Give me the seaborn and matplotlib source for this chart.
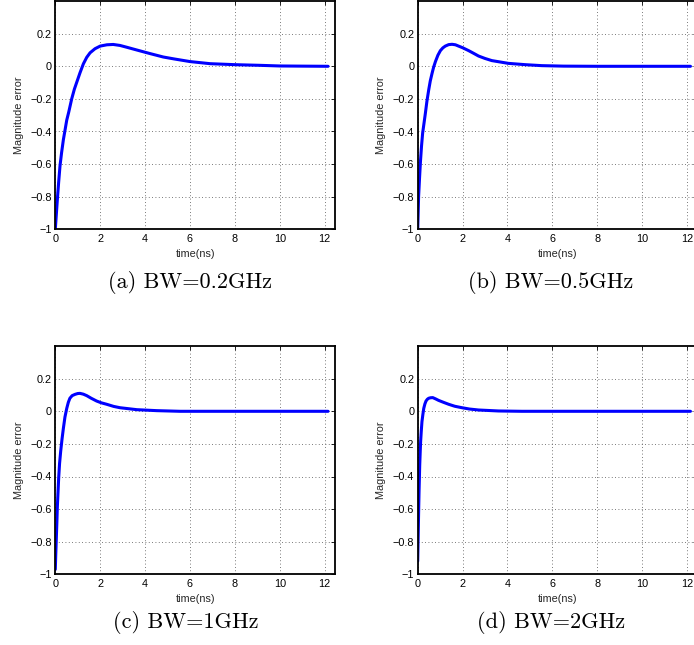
import numpy as np
import pandas as pd
import matplotlib
matplotlib.use("Agg")
import matplotlib.pyplot as plt
import seaborn as sns
from matplotlib.ticker import FixedLocator, FuncFormatter

sns.set_style("white")
plt.rcParams['font.family'] = ['Liberation Sans', 'DejaVu Sans']

# values (time in ns, magnitude error)
t_a = [0, 0.05, 0.09, 0.15, 0.21, 0.28, 0.36, 0.51, 0.6, 0.73, 0.85, 0.95, 1.1, 1.25, 1.4, 1.55, 1.77,
       2.0, 2.3, 2.58, 2.88, 3.18, 3.63, 4.22, 4.81, 5.3, 6.0, 6.9, 8.0, 9.1, 10.0, 11.0, 12.15]
e_a = [-1.0, -0.9, -0.82, -0.71, -0.61, -0.53, -0.45, -0.33, -0.28, -0.2, -0.14, -0.10, -0.04, 0.015, 0.055,
       0.083, 0.108, 0.124, 0.132, 0.134, 0.128, 0.117, 0.10, 0.078, 0.057, 0.045, 0.029, 0.016,
       0.01, 0.006, 0.002, 0.001, 0.0]

t_b = [0, 0.02, 0.04, 0.08, 0.12, 0.17, 0.22, 0.28, 0.34, 0.41, 0.49, 0.56, 0.64, 0.71, 0.79, 0.9, 1.01, 1.12,
       1.23, 1.38, 1.53, 1.68, 1.82, 2.0, 2.27, 2.5, 2.71, 3.0, 3.30, 4.04, 4.79, 5.53, 6.5, 8.0, 10.0, 12.15]
e_b = [-1.0, -0.9, -0.80, -0.69, -0.59, -0.49, -0.41, -0.35, -0.29, -0.215, -0.145, -0.09, -0.043, -0.005, 0.029,
       0.068, 0.096, 0.113, 0.124, 0.133, 0.135, 0.132, 0.124, 0.114, 0.096, 0.079, 0.063, 0.048, 0.035, 0.018,
       0.010, 0.004, 0.001, 0.0, 0.0, 0.0]

t_c = [0, 0.02, 0.045, 0.07, 0.09, 0.12, 0.15, 0.19, 0.24, 0.3, 0.36, 0.43, 0.51, 0.58, 0.65, 0.75, 0.88, 1.0,
       1.10, 1.25, 1.40, 1.6, 1.84, 2.05, 2.29, 2.6, 2.88, 3.63, 4.52, 5.56, 7.0, 9.0, 12.15]
e_c = [-0.97, -0.88, -0.78, -0.68, -0.59, -0.5, -0.41, -0.32, -0.245, -0.17, -0.104, -0.035, 0.018, 0.055, 0.08,
       0.096, 0.104, 0.109, 0.110, 0.105, 0.096, 0.08, 0.063, 0.052, 0.043, 0.03, 0.022, 0.010, 0.004, 0.0, 0.0,
       0.0, 0.0]

t_d = [0, 0.015, 0.03, 0.045, 0.06, 0.075, 0.09, 0.11, 0.13, 0.16, 0.19, 0.23, 0.27, 0.32, 0.37, 0.43, 0.49,
       0.57, 0.67, 0.8, 0.93, 1.15, 1.38, 1.65, 1.97, 2.3, 2.71, 3.60, 4.64, 6.0, 8.0, 10.0, 12.15]
e_d = [-0.92, -0.81, -0.70, -0.59, -0.49, -0.41, -0.33, -0.255, -0.186, -0.12, -0.063, -0.02, 0.018, 0.045,
       0.063, 0.074, 0.08, 0.083, 0.084, 0.076, 0.067, 0.055, 0.043, 0.031, 0.022, 0.014, 0.008, 0.002, 0.0, 0.0,
       0.0, 0.0, 0.0]

captions = ['(a) BW=0.2GHz', '(b) BW=0.5GHz', '(c) BW=1GHz', '(d) BW=2GHz']
x_ticks = [0, 2, 4, 6, 8, 10, 12]
y_ticks = [-1, -0.8, -0.6, -0.4, -0.2, 0, 0.2]

W, H = 694, 645
fig = plt.figure(figsize=(W / 100, H / 100), dpi=100)

# axes boxes in pixels: left, top(of y=0.4), bottom(of y=-1)
ax_w = 279.5
boxes = [(55.3, 1.1, 229.3), (417.7, 1.1, 229.3), (55.3, 346.1, 574.3), (417.7, 346.1, 574.3)]
cap_pos = [(190, 282), (551, 282), (186, 623), (551, 623)]
series = [(t_a, e_a), (t_b, e_b), (t_c, e_c), (t_d, e_d)]

fmt = FuncFormatter(lambda v, p: ('%g' % round(v, 2)).replace('-', '\u2212'))

for i in range(4):
    left, top, bot = boxes[i]
    ax = fig.add_axes([left / W, 1 - bot / H, ax_w / W, (bot - top) / H])
    df = pd.DataFrame({'time': series[i][0], 'err': series[i][1]})
    sns.lineplot(data=df, x='time', y='err', ax=ax, color='#0000ff', linewidth=2.2)
    ax.set_xlim(0, 12.45)
    ax.set_ylim(-1, 0.4)
    ax.xaxis.set_major_locator(FixedLocator(x_ticks))
    ax.yaxis.set_major_locator(FixedLocator(y_ticks))
    ax.xaxis.set_major_formatter(fmt)
    ax.yaxis.set_major_formatter(fmt)
    ax.tick_params(direction='in', length=3, width=0.6, labelsize=7.8,
                   top=True, right=True, colors='black')
    ax.tick_params(axis='x', pad=3.5)
    ax.tick_params(axis='y', pad=2.5)
    ax.grid(True, linestyle=(0, (1, 3)), color='0.3', linewidth=0.6)
    for s in ax.spines.values():
        s.set_color('black')
        s.set_linewidth(1.3)
    ax.set_xlabel('time(ns)', fontsize=7.8, labelpad=3.5)
    ax.set_ylabel('Magnitude error', fontsize=7.8, labelpad=4.5)
    cx, cy = cap_pos[i]
    fig.text(cx / W, 1 - cy / H, captions[i], ha='center', va='center',
             fontsize=16, family='cmr10', color='black')

fig.savefig('out.png', dpi=100)
